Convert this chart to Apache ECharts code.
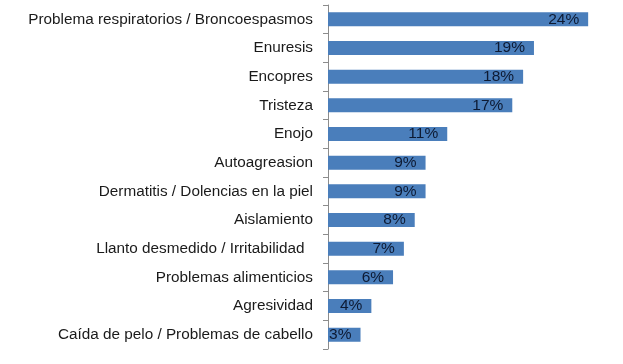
<!DOCTYPE html>
<html><head><meta charset="utf-8">
<script src="https://cdn.jsdelivr.net/npm/echarts@6/dist/echarts.min.js"></script>
<style>html,body{margin:0;padding:0;background:#fff}#c{width:623px;height:364px}</style>
</head><body><div id="c"></div>
<script>
const categories = [
  "Problema respiratorios / Broncoespasmos",
  "Enuresis",
  "Encopres",
  "Tristeza",
  "Enojo",
  "Autoagreasion",
  "Dermatitis / Dolencias en la piel",
  "Aislamiento",
  "Llanto desmedido / Irritabilidad  ",
  "Problemas alimenticios",
  "Agresividad",
  "Caída de pelo / Problemas de cabello"
];
const values = [24, 19, 18, 17, 11, 9, 9, 8, 7, 6, 4, 3];

const chart = echarts.init(document.getElementById('c'));
chart.setOption({
  animation: false,
  grid: { left: 328, top: 5, bottom: 15, right: 24, containLabel: false },
  xAxis: { type: 'value', min: 0, max: 25, show: false, splitLine: { show: false } },
  yAxis: {
    type: 'category', data: categories, inverse: true,
    axisLine: { show: true, lineStyle: { color: '#8c8c8c', width: 1 } },
    axisTick: { show: true, length: 5, lineStyle: { color: '#8c8c8c' } },
    axisLabel: { margin: 15, fontFamily: 'Liberation Sans, Arial', fontSize: 15.3, color: '#1a1a1a' }
  },
  series: [{
    type: 'bar', data: values, barWidth: 14,
    itemStyle: { color: '#4a7ebb' },
    label: {
      show: true, position: 'insideRight', distance: 9,
      formatter: '{c}%', fontFamily: 'Liberation Sans, Arial', fontSize: 15.5, color: '#0d1a33'
    }
  }]
});
</script></body></html>
